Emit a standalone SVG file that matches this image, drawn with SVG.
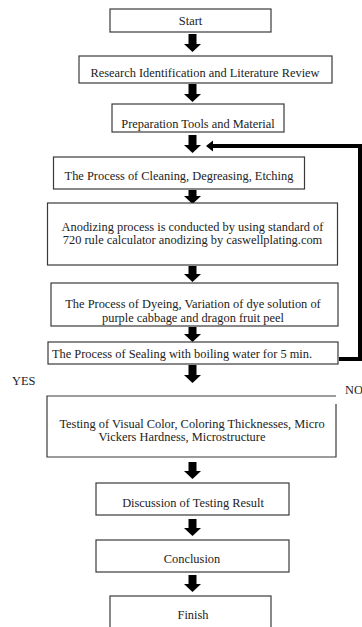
<svg xmlns="http://www.w3.org/2000/svg" width="362" height="627" viewBox="0 0 362 627">
<style>
.box{fill:#fff;stroke:#3a3a3a;stroke-width:1.2}
.t{font-family:"Liberation Serif","Times New Roman",serif;font-size:12.4px;fill:#222;text-anchor:middle}
.lbl{font-family:"Liberation Serif","Times New Roman",serif;font-size:12.4px;fill:#222}
.arr{fill:#000}
.fb{fill:none;stroke:#000;stroke-width:4}
</style>
<rect width="362" height="627" fill="#fff"/>
<g id="connectors">
<polygon class="arr" points="188.5,34 196.5,34 196.5,44 201,44 192.5,52 184,44 188.5,44"/>
<polygon class="arr" points="188.5,84 196.5,84 196.5,94 201,94 192.5,102 184,94 188.5,94"/>
<polygon class="arr" points="188.5,135 196.5,135 196.5,145 201,145 192.5,153 184,145 188.5,145"/>
<polygon class="arr" points="188.5,190 196.5,190 196.5,196 201,196 192.5,204 184,196 188.5,196"/>
<polygon class="arr" points="188.5,266 196.5,266 196.5,274 201,274 192.5,282 184,274 188.5,274"/>
<polygon class="arr" points="188.5,327 196.5,327 196.5,334 201,334 192.5,342 184,334 188.5,334"/>
<polygon class="arr" points="188.5,365 196.5,365 196.5,375 201,375 192.5,383 184,375 188.5,375"/>
<polygon class="arr" points="188.5,462 196.5,462 196.5,471 201,471 192.5,479 184,471 188.5,471"/>
<polygon class="arr" points="188.5,519 196.5,519 196.5,528 201,528 192.5,536 184,528 188.5,528"/>
<polygon class="arr" points="188.5,575 196.5,575 196.5,584 201,584 192.5,592 184,584 188.5,584"/>
<polyline class="fb" points="339,359 360,359 360,146 211,146"/>
<polygon class="arr" points="206,146 213,140.5 213,151.5"/>
</g>
<g id="start"><rect class="box" x="110" y="9" width="161" height="23"/><text class="t" x="190.5" y="25">Start</text></g>
<g id="research"><rect class="box" x="79" y="56" width="253" height="27"/><text class="t" x="205" y="77">Research Identification and Literature Review</text></g>
<g id="preparation"><rect class="box" x="112" y="104" width="172" height="28"/><text class="t" x="198" y="128">Preparation Tools and Material</text></g>
<g id="cleaning"><rect class="box" x="53.5" y="157" width="251" height="32"/><text class="t" x="179" y="180">The Process of Cleaning, Degreasing, Etching</text></g>
<g id="anodizing"><rect class="box" x="47.5" y="203" width="290" height="62"/><text class="t" x="192.5" y="231">Anodizing process is conducted by using standard of</text><text class="t" x="192.5" y="243.5">720 rule calculator anodizing by caswellplating.com</text></g>
<g id="dyeing"><rect class="box" x="51" y="283" width="287" height="43"/><text class="t" x="193" y="308">The Process of Dyeing, Variation of dye solution of</text><text class="t" x="193" y="321.5">purple cabbage and dragon fruit peel</text></g>
<g id="sealing"><rect class="box" x="48" y="342" width="290" height="22"/><text class="t" x="182" y="357.5">The Process of Sealing with boiling water for 5 min.</text></g>
<g id="testing"><path class="box" d="M336,404 V457 H47 V396 H336"/><text class="t" x="192" y="427.5">Testing of Visual Color, Coloring Thicknesses, Micro</text><text class="t" x="182" y="441">Vickers Hardness, Microstructure</text></g>
<g id="yes"><text class="lbl" x="12" y="385">YES</text></g>
<g id="no"><text class="lbl" x="345" y="394">NO</text></g>
<g id="discussion"><rect class="box" x="96" y="483" width="193" height="32"/><text class="t" x="193" y="507">Discussion of Testing Result</text></g>
<g id="conclusion"><rect class="box" x="96" y="540" width="193" height="32"/><text class="t" x="192" y="563">Conclusion</text></g>
<g id="finish"><rect class="box" x="110" y="596" width="161" height="40"/><text class="t" x="193" y="618.5">Finish</text></g>
</svg>
